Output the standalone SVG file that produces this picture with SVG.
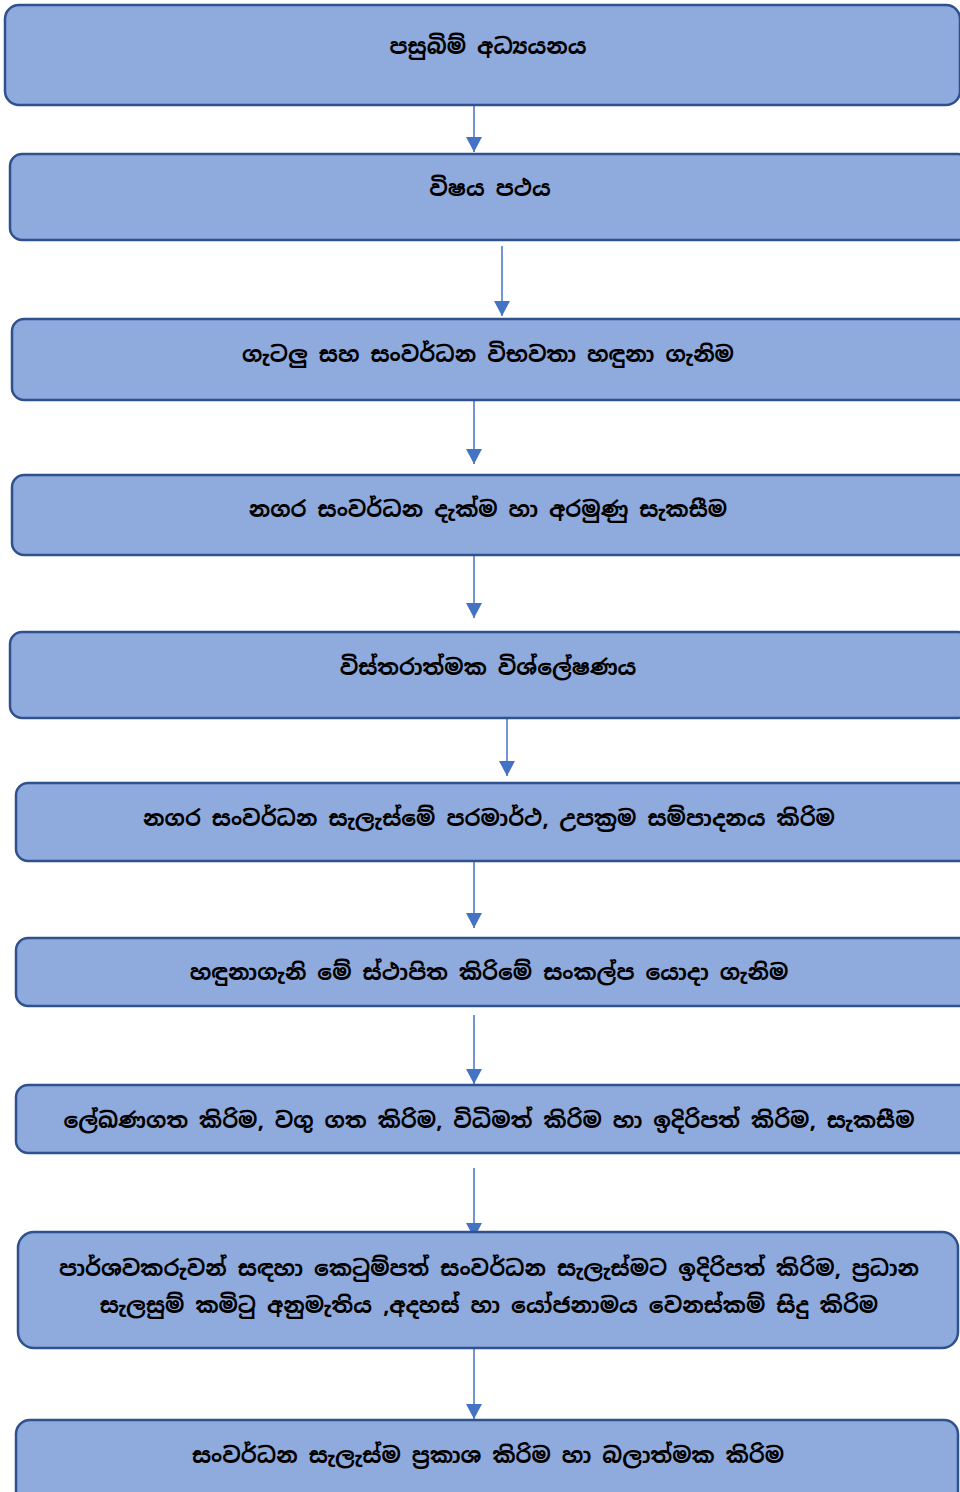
<svg xmlns="http://www.w3.org/2000/svg" width="960" height="1492" viewBox="0 0 960 1492">
<defs>
<style>
.box{fill:#8faadc;stroke:#2f528f;stroke-width:2.5}
.lbl{font-family:"Iskoola Pota","Noto Sans Sinhala","Noto Sans","DejaVu Sans",sans-serif;font-size:22px;font-weight:bold;fill:#000;text-anchor:middle;dominant-baseline:central}
.con{stroke:#4472c4;stroke-width:1.5;fill:none;marker-end:url(#ah)}
</style>
<marker id="ah" viewBox="0 0 15 16" refX="15" refY="8" markerWidth="15" markerHeight="16" markerUnits="userSpaceOnUse" orient="auto">
<path d="M0,0 L15,8 L0,16 z" fill="#4472c4"/>
</marker>
</defs>
<rect width="960" height="1492" fill="#fff"/>
<g id="connectors">
<line class="con" x1="474" y1="106" x2="474" y2="152"/>
<line class="con" x1="502" y1="246" x2="502" y2="316"/>
<line class="con" x1="474" y1="401" x2="474" y2="464"/>
<line class="con" x1="474" y1="556" x2="474" y2="618"/>
<line class="con" x1="507" y1="719" x2="507" y2="776"/>
<line class="con" x1="474" y1="862" x2="474" y2="928"/>
<line class="con" x1="474" y1="1015" x2="474" y2="1084"/>
<line class="con" x1="474" y1="1168" x2="474" y2="1238"/>
<line class="con" x1="474" y1="1349" x2="474" y2="1419"/>
</g>
<g id="n1"><rect class="box" x="5" y="5" width="955" height="100" rx="14"/><text class="lbl" x="488" y="46">පසුබිම් අධ්‍යයනය</text></g>
<g id="n2"><rect class="box" x="10" y="154" width="960" height="86" rx="12"/><text class="lbl" x="490" y="188">විෂය පථය</text></g>
<g id="n3"><rect class="box" x="12" y="319" width="960" height="81" rx="12"/><text class="lbl" x="488" y="354">ගැටලු  සහ සංවර්ධන විභවතා හඳුනා ගැනිම</text></g>
<g id="n4"><rect class="box" x="12" y="475" width="960" height="80" rx="12"/><text class="lbl" x="488" y="509">නගර සංවර්ධන දැක්ම හා අරමුණු සැකසීම</text></g>
<g id="n5"><rect class="box" x="10" y="632" width="960" height="86" rx="12"/><text class="lbl" x="488" y="667">විස්තරාත්මක විශ්ලේෂණය</text></g>
<g id="n6"><rect class="box" x="16" y="783" width="960" height="78" rx="12"/><text class="lbl" x="489" y="818">නගර සංවර්ධන සැලැස්මේ පරමාර්ථ, උපක්‍රම සම්පාදනය කිරිම</text></g>
<g id="n7"><rect class="box" x="16" y="938" width="960" height="68" rx="12"/><text class="lbl" x="489" y="972">හඳුනාගැනි මේ ස්ථාපිත කිරිමේ සංකල්ප යොදා ගැනිම</text></g>
<g id="n8"><rect class="box" x="16" y="1085" width="960" height="68" rx="12"/><text class="lbl" x="489" y="1120">ලේඛණගත කිරිම, වගු ගත කිරිම, විධිමත් කිරිම හා ඉදිරිපත් කිරිම, සැකසීම</text></g>
<g id="n9"><rect class="box" x="18" y="1232" width="940" height="116" rx="16"/><text class="lbl" x="489" y="1268">පාර්ශවකරුවන් සඳහා කෙටුම්පත් සංවර්ධන සැලැස්මට ඉදිරිපත් කිරිම, ප්‍රධාන</text><text class="lbl" x="489" y="1305">සැලසුම් කමිටු අනුමැතිය ,අදහස් හා යෝජනාමය වෙනස්කම් සිදු කිරිම</text></g>
<g id="n10"><rect class="box" x="16" y="1420" width="942" height="90" rx="14"/><text class="lbl" x="488" y="1455">සංවර්ධන සැලැස්ම ප්‍රකාශ කිරිම හා බලාත්මක කිරිම</text></g>
</svg>
